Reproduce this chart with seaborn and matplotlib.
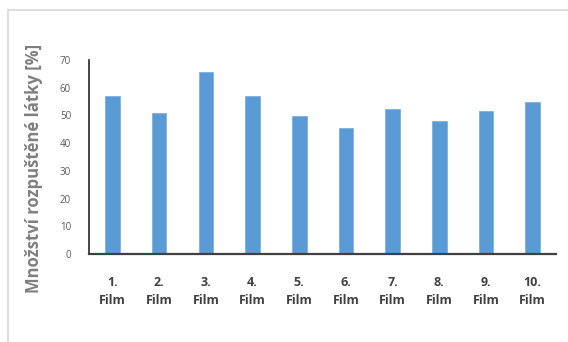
import matplotlib
matplotlib.use("Agg")
import matplotlib.pyplot as plt
from matplotlib.lines import Line2D
import seaborn as sns
import pandas as pd

# Dissolved amount per film sample
films = ["1.\nFilm", "2.\nFilm", "3.\nFilm", "4.\nFilm", "5.\nFilm",
         "6.\nFilm", "7.\nFilm", "8.\nFilm", "9.\nFilm", "10.\nFilm"]
dissolved = [57.0, 50.9, 65.7, 57.0, 49.6, 45.5, 52.3, 48.1, 51.5, 54.9]
y_ticks = [0, 10, 20, 30, 40, 50, 60, 70]

df = pd.DataFrame({"film": films, "value": dissolved})

sns.set_theme(style="white")
plt.rcParams["font.family"] = ["Open Sans", "DejaVu Sans"]

fig = plt.figure(figsize=(5.68, 3.42), dpi=100)
ax = fig.add_axes([0.157, 0.257, 0.822, 0.568])

sns.barplot(data=df, x="film", y="value", color="#5B9BD5", saturation=1,
            width=0.31, edgecolor="#7fb0de", linewidth=0.6, ax=ax)

ax.set_ylim(0, 70)
ax.set_xlim(-0.5, len(films) - 0.5)
ax.set_yticks(y_ticks)
ax.set_yticklabels([str(t) for t in y_ticks], fontsize=7, color="#595959")
ax.tick_params(axis="both", length=0)
ax.tick_params(axis="y", pad=13)
ax.tick_params(axis="x", pad=16)
for lbl in ax.get_xticklabels():
    lbl.set_fontsize(9)
    lbl.set_fontweight("bold")
    lbl.set_color("#404040")
    lbl.set_linespacing(1.5)

ax.set_xlabel("")
ax.set_ylabel("Množství rozpuštěné látky [%]", fontsize=12, fontweight="bold",
              color="#7f7f7f")
ax.yaxis.set_label_coords(-0.098, 0.44)

sns.despine(ax=ax, top=True, right=True)
ax.spines["left"].set_color("#262626")
ax.spines["left"].set_linewidth(1.2)
ax.spines["bottom"].set_color("#404040")
ax.spines["bottom"].set_linewidth(1.6)

# light chart-area frame along the top and left edges
fig.add_artist(Line2D([8 / 568, 1.0], [1 - 10 / 342, 1 - 10 / 342],
                      transform=fig.transFigure, color="#d9d9d9", linewidth=1.2))
fig.add_artist(Line2D([8 / 568, 8 / 568], [0.0, 1 - 10 / 342],
                      transform=fig.transFigure, color="#d9d9d9", linewidth=1.2))

fig.savefig("out.png", dpi=100)
